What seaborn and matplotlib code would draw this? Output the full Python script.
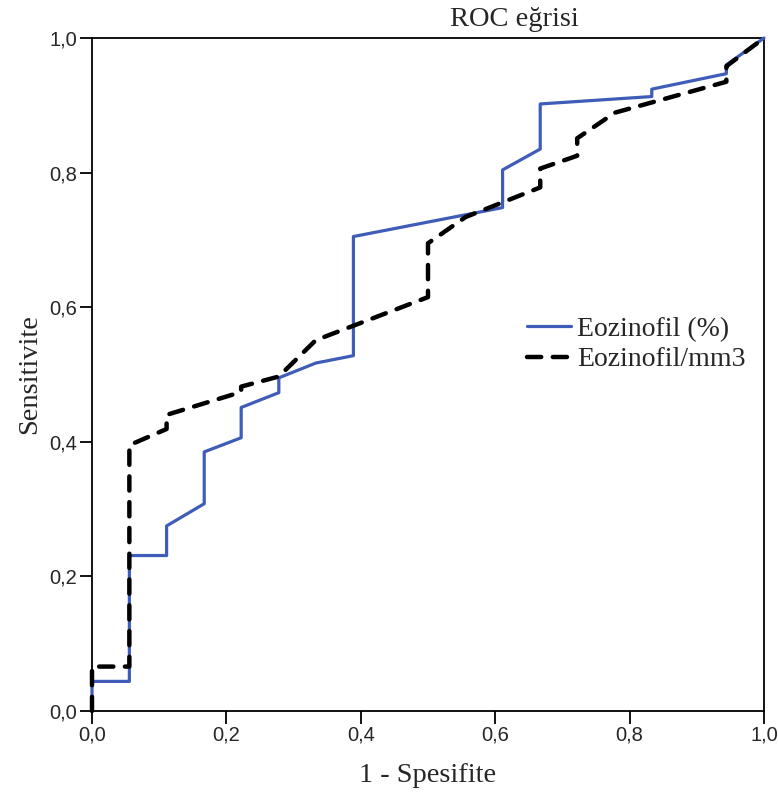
import matplotlib
matplotlib.use("Agg")
import matplotlib.pyplot as plt
import seaborn as sns
import pandas as pd

# ---- data ----
series_names = ["Eozinofil (%)", "Eozinofil/mm3"]

pct_fpr = [0, 0, 0.0556, 0.0556, 0.111, 0.111, 0.167, 0.167, 0.222, 0.222, 0.278, 0.278,
           0.333, 0.389, 0.389, 0.611, 0.611, 0.667, 0.667, 0.833, 0.833, 0.944, 0.944, 1.0]
pct_tpr = [0, 0.044, 0.044, 0.231, 0.231, 0.275, 0.308, 0.385, 0.406, 0.451, 0.473, 0.495,
           0.517, 0.528, 0.705, 0.748, 0.804, 0.835, 0.902, 0.913, 0.924, 0.947, 0.960, 1.0]

mm3_fpr = [0, 0, 0.0556, 0.0556, 0.111, 0.111, 0.222, 0.222, 0.278, 0.333, 0.5, 0.5,
           0.556, 0.667, 0.667, 0.722, 0.722, 0.778, 0.944, 0.944, 1.0]
mm3_tpr = [0, 0.066, 0.066, 0.395, 0.419, 0.44, 0.474, 0.482, 0.497, 0.551, 0.615, 0.695,
           0.734, 0.778, 0.806, 0.825, 0.851, 0.889, 0.935, 0.958, 1.0]

tick_vals = [0.0, 0.2, 0.4, 0.6, 0.8, 1.0]
tick_labels = ["0,0", "0,2", "0,4", "0,6", "0,8", "1,0"]

# ---- build long table ----
df = pd.concat([
    pd.DataFrame({"fpr": pct_fpr, "tpr": pct_tpr, "seri": series_names[0]}),
    pd.DataFrame({"fpr": mm3_fpr, "tpr": mm3_tpr, "seri": series_names[1]}),
], ignore_index=True)

sns.set_style("white")
serif = ["Liberation Serif", "DejaVu Serif"]
sans = ["Liberation Sans", "DejaVu Sans"]

fig = plt.figure(figsize=(7.78, 7.98), dpi=100)
ax = fig.add_axes([92 / 778, 87 / 798, 672 / 778, 673 / 798])

palette = {series_names[0]: "#3e5cb8", series_names[1]: "#000000"}
dashes = {series_names[0]: "", series_names[1]: (3.2, 2.6)}

sns.lineplot(data=df, x="fpr", y="tpr", hue="seri", style="seri",
             palette=palette, dashes=dashes, sort=False, estimator=None,
             ax=ax, legend=True)

lines = ax.get_lines()
for ln in lines[:2]:
    ln.set_clip_on(False)
lines[0].set_linewidth(2.3)
lines[0].set_zorder(3)
lines[1].set_linewidth(3.2)
lines[1].set_dash_capstyle("round")
lines[1].set_zorder(4)

ax.set_xlim(0, 1)
ax.set_ylim(0, 1)
ax.set_xticks(tick_vals)
ax.set_xticklabels(tick_labels, family=sans, fontsize=14.5)
ax.set_yticks(tick_vals)
ax.set_yticklabels(tick_labels, family=sans, fontsize=14.5)
ax.tick_params(axis="both", direction="out", length=9, width=1.3, color="black",
               pad=1.5, bottom=True, left=True)

for sp in ax.spines.values():
    sp.set_visible(True)
    sp.set_color("black")
    sp.set_linewidth(1.3)

ax.set_xlabel("1 - Spesifite", family=serif, fontsize=20.5)
ax.xaxis.set_label_coords(0.5, -0.077)
ax.set_ylabel("Sensitivite", family=serif, fontsize=20.5)
ax.yaxis.set_label_coords(-0.074, 0.5)

ax.text(0.629, 1.027, "ROC eğrisi", transform=ax.transAxes, ha="center",
        va="center", family=serif, fontsize=20.5)

leg = ax.legend(frameon=False, loc="upper left", bbox_to_anchor=(0.647, 0.586),
                borderpad=0, borderaxespad=0, handlelength=1.6, handletextpad=0.2,
                labelspacing=0.17, prop={"family": serif, "size": 20})
leg.legend_handles[0].set_linewidth(2.3)
leg.legend_handles[1].set_linewidth(3.2)
leg.legend_handles[1].set_dash_capstyle("round")

fig.savefig("out.png", dpi=100, facecolor="white")
